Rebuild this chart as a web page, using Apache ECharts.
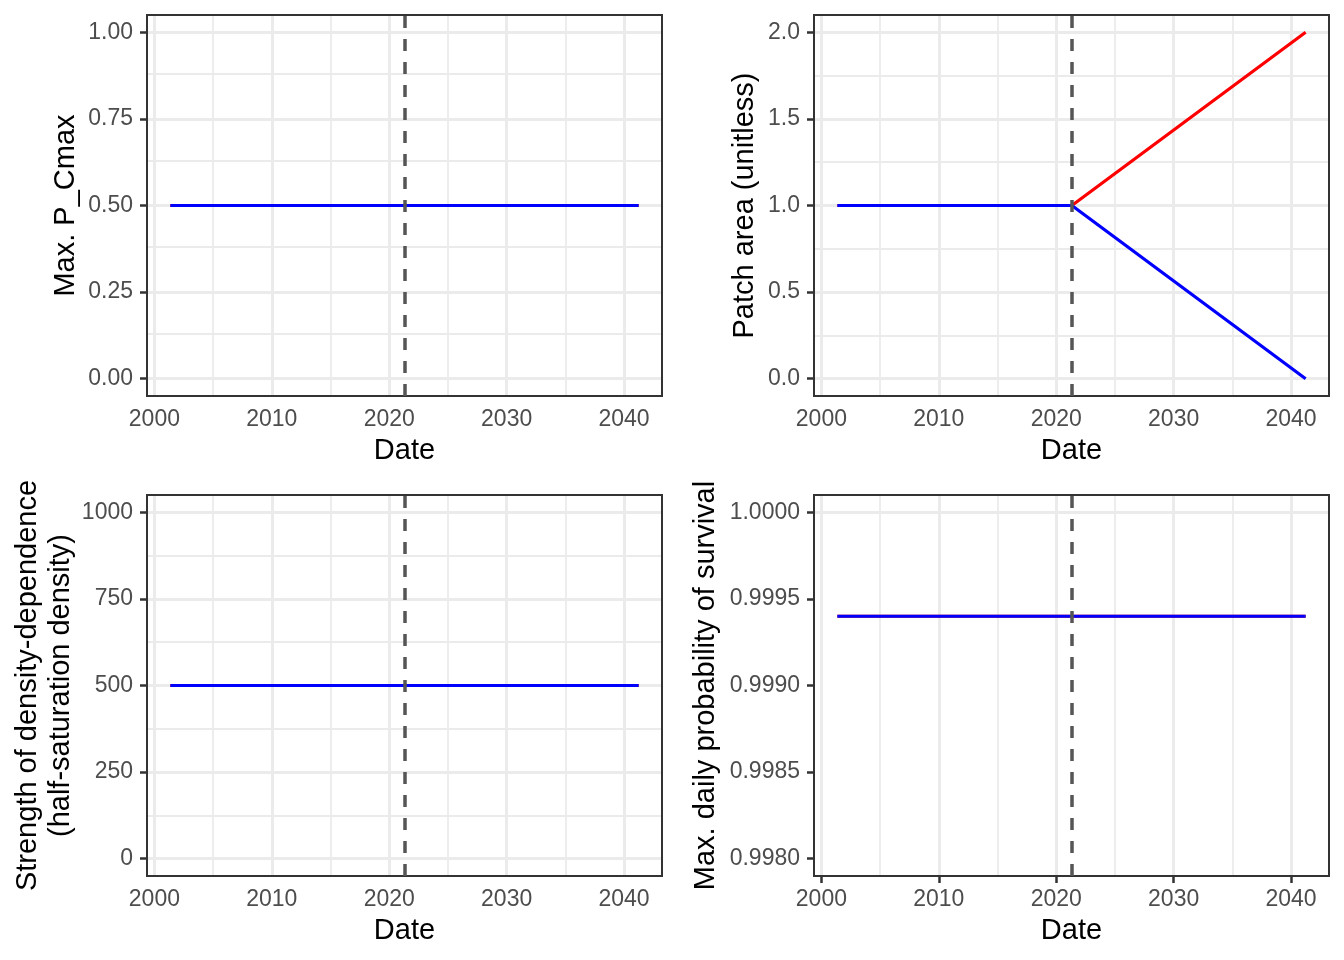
<!DOCTYPE html>
<html><head><meta charset="utf-8">
<script src="https://cdn.jsdelivr.net/npm/echarts@6/dist/echarts.min.js"></script>
<style>html,body{margin:0;padding:0;background:#fff}#c{width:1344px;height:960px}</style>
</head><body><div id="c"></div>
<script>
// ---- data ----
const dates = [2001.36, 2021.33, 2041.24];
const changeDate = 2021.33;
const pcmaxRed = [0.5, 0.5, 0.5];
const pcmaxBlue = [0.5, 0.5, 0.5];
const patchRed = [1, 1, 2];
const patchBlue = [1, 1, 0];
const densRed = [500, 500, 500];
const densBlue = [500, 500, 500];
const survRed = [0.9994, 0.9994, 0.9994];
const survBlue = [0.9994, 0.9994, 0.9994];
// ---- ticks ----
const xMajor = [2000, 2010, 2020, 2030, 2040];
const xMinor = [2005, 2015, 2025, 2035];
const xRange = [1999.37, 2043.23];
const pcmaxTicks = [0, 0.25, 0.5, 0.75, 1];
const pcmaxMinor = [0.125, 0.375, 0.625, 0.875];
const pcmaxRange = [-0.05, 1.05];
const patchTicks = [0, 0.5, 1, 1.5, 2];
const patchMinor = [0.25, 0.75, 1.25, 1.75];
const patchRange = [-0.1, 2.1];
const densTicks = [0, 250, 500, 750, 1000];
const densMinor = [125, 375, 625, 875];
const densRange = [-50, 1050];
const survTicks = [0.998, 0.9985, 0.999, 0.9995, 1];
const survMinor = [0.99825, 0.99875, 0.99925, 0.99975];
const survRange = [0.9979, 1.0001];

const FONT = "'Liberation Sans', Arial, Helvetica, sans-serif";
const panels = [
  {left: 147, top: 15, name: 'Max. P_Cmax', red: pcmaxRed, blue: pcmaxBlue, ticks: pcmaxTicks, minor: pcmaxMinor, range: pcmaxRange, dec: 2, gap: 65},
  {left: 814, top: 15, name: 'Patch area (unitless)', red: patchRed, blue: patchBlue, ticks: patchTicks, minor: patchMinor, range: patchRange, dec: 1, gap: 53},
  {left: 147, top: 495, name: 'Strength of density-dependence\n(half-saturation density)', red: densRed, blue: densBlue, ticks: densTicks, minor: densMinor, range: densRange, dec: 0, gap: 69},
  {left: 814, top: 495, name: 'Max. daily probability of survival', red: survRed, blue: survBlue, ticks: survTicks, minor: survMinor, range: survRange, dec: 4, gap: 92}
];

const grid = [], xAxis = [], yAxis = [], series = [];
panels.forEach((p, i) => {
  grid.push({left: p.left, top: p.top, width: 515, height: 381, show: true, z: 2,
    backgroundColor: 'transparent', borderColor: '#333333', borderWidth: 2});
  xAxis.push({type: 'value', gridIndex: i, min: xRange[0], max: xRange[1],
    name: 'Date', nameLocation: 'middle', nameGap: 40,
    nameTextStyle: {fontFamily: FONT, fontSize: 29, color: '#000'},
    axisLine: {show: false},
    axisTick: {show: true, length: 7, customValues: xMajor, lineStyle: {color: '#333333', width: 2.5}},
    axisLabel: {customValues: xMajor, margin: 12, fontFamily: FONT, fontSize: 23, color: '#4D4D4D',
      formatter: v => String(Math.round(v))},
    splitLine: {show: false}, minorSplitLine: {show: false}});
  yAxis.push({type: 'value', gridIndex: i, min: p.range[0], max: p.range[1],
    name: p.name, nameLocation: 'middle', nameRotate: 90, nameGap: p.gap,
    nameTextStyle: {fontFamily: FONT, fontSize: 29, color: '#000', lineHeight: 33, align: 'center'},
    axisLine: {show: false},
    axisTick: {show: true, length: 7, customValues: p.ticks, lineStyle: {color: '#333333', width: 2.5}},
    axisLabel: {customValues: p.ticks, margin: 14, fontFamily: FONT, fontSize: 23, color: '#4D4D4D',
      formatter: v => Number(v).toFixed(p.dec)},
    splitLine: {show: false}, minorSplitLine: {show: false}});
  const gl = [];
  xMinor.forEach(v => gl.push({xAxis: v, lineStyle: {color: '#EBEBEB', width: 1.8, type: 'solid'}}));
  p.minor.forEach(v => gl.push({yAxis: v, lineStyle: {color: '#EBEBEB', width: 1.8, type: 'solid'}}));
  xMajor.forEach(v => gl.push({xAxis: v, lineStyle: {color: '#EBEBEB', width: 3, type: 'solid'}}));
  p.ticks.forEach(v => gl.push({yAxis: v, lineStyle: {color: '#EBEBEB', width: 3, type: 'solid'}}));
  series.push({type: 'line', xAxisIndex: i, yAxisIndex: i, z: 1, silent: true,
    data: dates.map((d, k) => [d, p.red[k]]), showSymbol: false, symbol: 'none',
    lineStyle: {opacity: 0},
    markLine: {z: 1, silent: true, symbol: 'none', animation: false, label: {show: false}, data: gl}});
  series.push({type: 'line', xAxisIndex: i, yAxisIndex: i, z: 3, silent: true,
    data: dates.map((d, k) => [d, p.red[k]]), showSymbol: false, symbol: 'none',
    lineStyle: {color: '#FF0000', width: 3.2}});
  series.push({type: 'line', xAxisIndex: i, yAxisIndex: i, z: 4, silent: true,
    data: dates.map((d, k) => [d, p.blue[k]]), showSymbol: false, symbol: 'none',
    lineStyle: {color: '#0000FF', width: 3.2},
    markLine: {z: 5, silent: true, symbol: 'none', animation: false, label: {show: false},
      data: [{xAxis: changeDate, lineStyle: {color: '#555555', width: 3.5, type: [12, 11]}}]}});
});

const chart = echarts.init(document.getElementById('c'), null, {renderer: 'canvas'});
chart.setOption({backgroundColor: '#ffffff', animation: false, grid, xAxis, yAxis, series});
</script></body></html>
